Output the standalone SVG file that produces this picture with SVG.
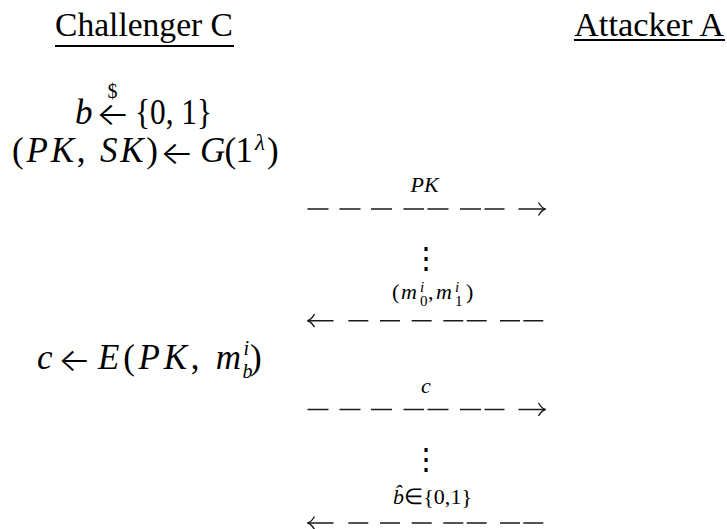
<svg xmlns="http://www.w3.org/2000/svg" width="727" height="529" viewBox="0 0 727 529">
<style>
text { font-family: 'Liberation Serif', 'Times New Roman', serif; fill: #000; }
.title { font-size: 33px; }
.m { font-size: 35px; }
.i { font-style: italic; }
.arr { font-family: 'Inter', 'DejaVu Sans', sans-serif; font-size: 32px; font-weight: 300; }
.lbl { font-size: 22px; }
.scr { font-size: 15px; }
.dots { font-size: 30px; }
.ul { stroke: #000; stroke-width: 2.2; }
.dash { stroke: #1a1a1a; stroke-width: 1.4; fill: none; }
</style>
<rect width="727" height="529" fill="#fff"/>

<g id="challenger">
  <text class="title" x="55" y="36" textLength="178" lengthAdjust="spacingAndGlyphs">Challenger C</text>
  <line class="ul" x1="55" y1="46" x2="234" y2="46"/>
</g>
<g id="attacker">
  <text class="title" x="574" y="36" textLength="150" lengthAdjust="spacingAndGlyphs">Attacker A</text>
  <line class="ul" x1="574" y1="40" x2="725" y2="40"/>
</g>

<g id="keygen">
  <text class="m i" x="75" y="124">b</text>
  <text class="arr" x="96" y="125" textLength="34" lengthAdjust="spacingAndGlyphs">←</text>
  <text x="112.5" y="98" font-size="20" text-anchor="middle">$</text>
  <text class="m" x="135" y="124" textLength="77" lengthAdjust="spacingAndGlyphs">{0, 1}</text>
  <text class="m" x="12" y="162" textLength="146" lengthAdjust="spacing">(<tspan class="i">PK</tspan>, <tspan class="i">SK</tspan>)</text>
  <text class="arr" x="160" y="164" textLength="34" lengthAdjust="spacingAndGlyphs">←</text>
  <text class="m" x="200" y="162" textLength="53" lengthAdjust="spacing"><tspan class="i">G</tspan>(1</text>
  <text class="i" x="255" y="150" font-size="23">λ</text>
  <text class="m" x="267" y="162">)</text>
</g>

<g id="encrypt">
  <text class="m i" x="37" y="369">c</text>
  <text class="arr" x="58" y="371" textLength="33" lengthAdjust="spacingAndGlyphs">←</text>
  <text class="m" x="98" y="369" textLength="143" lengthAdjust="spacing"><tspan class="i">E</tspan>(<tspan class="i">PK</tspan>, <tspan class="i">m</tspan></text>
  <text class="i" x="243.5" y="355" font-size="20">i</text>
  <text class="i" x="242.5" y="378" font-size="20">b</text>
  <text class="m" x="250" y="369">)</text>
</g>

<g id="connectors">
  <g id="msg-pk">
    <path class="dash" d="M307.5 209H328.5M339.5 209H360.5M371 209H392M403.5 209H424M427.5 209H448.5M460 209H481M484.5 209H504.5M518.5 209H545.5"/>
    <path class="dash" d="M538.5 202.5C540.5 206 542.5 208.3 545.5 209C542.5 209.7 540.5 212 538.5 215.5"/>
  </g>
  <g id="msg-m">
    <path class="dash" d="M307.5 320.7H333.5M348.3 320.7H368.3M380 320.7H400M411.7 320.7H431.7M443.3 320.7H463.3M466.7 320.7H486.7M500 320.7H520M523.3 320.7H543.3"/>
    <path class="dash" d="M314.5 314.2C312.5 317.7 310.5 320 307.5 320.7C310.5 321.4 312.5 323.7 314.5 327.2"/>
  </g>
  <g id="msg-c">
    <path class="dash" d="M307.5 409.5H328.5M339.5 409.5H360.5M371 409.5H392M403.5 409.5H424M427.5 409.5H448.5M460 409.5H481M484.5 409.5H504.5M518.5 409.5H545.5"/>
    <path class="dash" d="M538.5 403C540.5 406.5 542.5 408.8 545.5 409.5C542.5 410.2 540.5 412.5 538.5 416"/>
  </g>
  <g id="msg-bhat">
    <path class="dash" d="M307.5 523H333.5M348.3 523H368.3M380 523H400M411.7 523H431.7M443.3 523H463.3M466.7 523H486.7M500 523H520M523.3 523H543.3"/>
    <path class="dash" d="M314.5 516.5C312.5 520 310.5 522.3 307.5 523C310.5 523.7 312.5 526 314.5 529.5"/>
  </g>
</g>

<g id="labels">
  <text class="lbl i" x="424.5" y="192" text-anchor="middle">PK</text>
  <text class="lbl" x="392" y="299">(</text>
  <text class="lbl i" x="401" y="299">m</text>
  <text class="scr i" x="420" y="292">i</text>
  <text class="scr" x="420" y="306">0</text>
  <text class="lbl" x="428" y="299">,</text>
  <text class="lbl i" x="436" y="299">m</text>
  <text class="scr i" x="455" y="292">i</text>
  <text class="scr" x="455" y="306">1</text>
  <text class="lbl" x="466" y="299">)</text>
  <text class="lbl i" x="426" y="393" text-anchor="middle">c</text>
  <text class="lbl" x="393" y="504" textLength="79" lengthAdjust="spacing"><tspan class="i">b̂</tspan>∈{0,1}</text>
</g>

<g id="ellipsis-1">
  <text class="dots" x="426" y="268" text-anchor="middle">⋮</text>
</g>
<g id="ellipsis-2">
  <text class="dots" x="426" y="469" text-anchor="middle">⋮</text>
</g>
</svg>
